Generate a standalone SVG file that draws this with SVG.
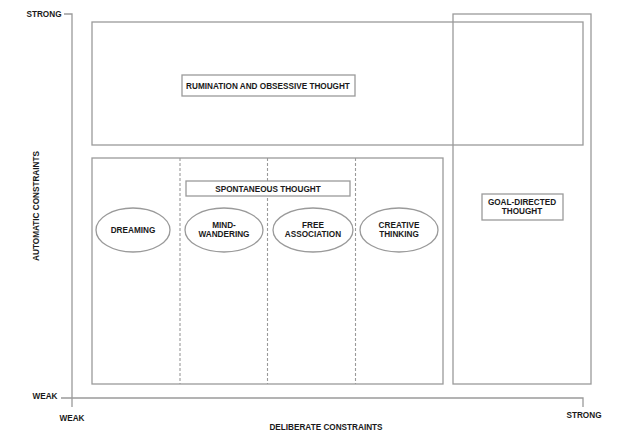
<svg xmlns="http://www.w3.org/2000/svg" width="640" height="444" viewBox="0 0 640 444">
<style>
.ln{fill:none;stroke:#9a9a9a;stroke-width:1.3}
.bx{fill:#fff;stroke:#9a9a9a;stroke-width:1.3}
.dash{fill:none;stroke:#9a9a9a;stroke-width:1.1;stroke-dasharray:3 2}
text{font-family:"Liberation Sans",Arial,sans-serif;font-weight:bold;font-size:8.2px;fill:#1a1a1a;text-anchor:middle}
</style>
<rect width="640" height="444" fill="#fff"/>
<g id="axes">
<polyline class="ln" points="64,14 72,14 72,407"/>
<polyline class="ln" points="61,398 583,398 583,407"/>
<text x="44" y="17" >STRONG</text>
<text x="45" y="399">WEAK</text>
<text x="72" y="421">WEAK</text>
<text x="584" y="418">STRONG</text>
<text x="326" y="430">DELIBERATE CONSTRAINTS</text>
<text transform="translate(39,206) rotate(-90)">AUTOMATIC CONSTRAINTS</text>
</g>
<g id="rumination">
<rect class="ln" x="92" y="22" width="491" height="123"/>
<rect class="bx" x="182" y="75" width="173" height="21"/>
<text x="268" y="88.5">RUMINATION AND OBSESSIVE THOUGHT</text>
</g>
<g id="goal-directed">
<rect class="ln" x="453" y="14" width="138" height="370"/>
<rect class="bx" x="482" y="194" width="81" height="26"/>
<text x="522" y="205">GOAL-DIRECTED</text>
<text x="522" y="214">THOUGHT</text>
</g>
<g id="spontaneous">
<rect class="ln" x="92" y="158" width="351" height="226"/>
</g>
<g id="connectors">
<line class="dash" x1="180" y1="158" x2="180" y2="384"/>
<line class="dash" x1="267.5" y1="158" x2="267.5" y2="384"/>
<line class="dash" x1="355.5" y1="158" x2="355.5" y2="384"/>
</g>
<g id="spontaneous-label">
<rect class="bx" x="186" y="181" width="164" height="15"/>
<text x="268" y="191.5">SPONTANEOUS THOUGHT</text>
</g>
<g id="dreaming">
<ellipse class="bx" cx="133" cy="230" rx="37" ry="22"/>
<text x="133" y="233">DREAMING</text>
</g>
<g id="mind-wandering">
<ellipse class="bx" cx="224" cy="230" rx="39" ry="22"/>
<text x="224" y="228">MIND-</text>
<text x="224" y="237">WANDERING</text>
</g>
<g id="free-association">
<ellipse class="bx" cx="313" cy="230" rx="40" ry="22"/>
<text x="313" y="228">FREE</text>
<text x="313" y="237">ASSOCIATION</text>
</g>
<g id="creative-thinking">
<ellipse class="bx" cx="399" cy="230" rx="39" ry="22"/>
<text x="399" y="228">CREATIVE</text>
<text x="399" y="237">THINKING</text>
</g>
</svg>
